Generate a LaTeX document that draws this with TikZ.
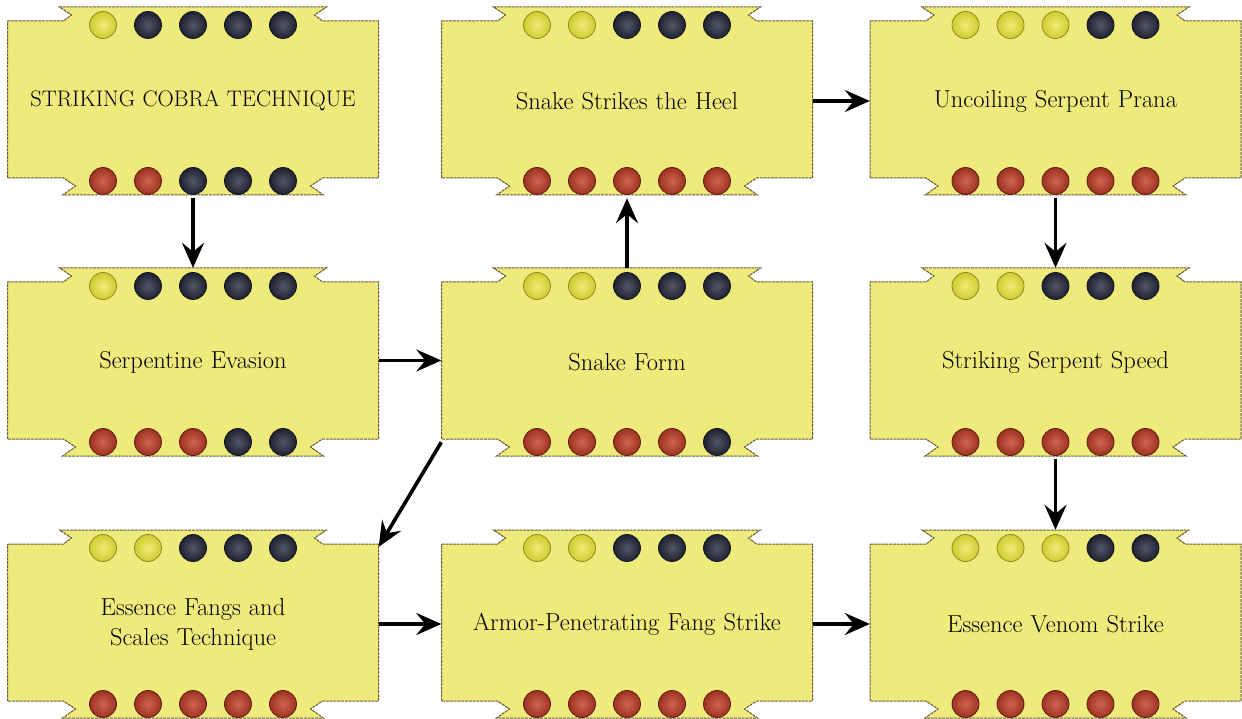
\documentclass[tikz,border=0pt]{standalone}
\usetikzlibrary{arrows.meta,calc}
\definecolor{boxfill}{HTML}{EEEA7C}
\definecolor{boxedge}{HTML}{6B5A30}
\definecolor{Yi}{HTML}{EEEC78}
\definecolor{Yo}{HTML}{CFCC30}
\definecolor{Ye}{HTML}{8C8A22}
\definecolor{Di}{HTML}{525868}
\definecolor{Do}{HTML}{1E2130}
\definecolor{De}{HTML}{14161E}
\definecolor{Ri}{HTML}{D06450}
\definecolor{Ro}{HTML}{9C3220}
\definecolor{Re}{HTML}{5E1C12}
\tikzset{
  boxtext/.style={minimum width=371pt, minimum height=157pt, inner sep=0pt, align=center, text width=350pt, font=\fontsize{24.5}{30}\selectfont},
  capstext/.style={font=\fontsize{22.5}{28}\selectfont},
  boxshape/.style={fill=boxfill, draw=boxedge, line width=1pt, dash pattern=on 3pt off 0.8pt},
  arr/.style={line width=3.6pt, -{Stealth[length=25pt,width=22pt,inset=9pt]}}
}
\newcommand\skillbox[7][]{%
  \begin{scope}[shift={(#3,#4)}]
    \path[boxshape] (-185.5,0) -- (-129.5,0) -- (-121.5,-6) -- (-133.5,-14) -- (133.5,-14) -- (121.5,-6) -- (129.5,0) -- (185.5,0)
      -- (185.5,157) -- (129.5,157) -- (117.5,165) -- (130.5,174) -- (-130.5,174) -- (-117.5,165) -- (-129.5,157) -- (-185.5,157) -- cycle;
    \foreach \c [count=\i] in {#6} {
      \shade[inner color=\c i, outer color=\c o, draw=\c e, line width=0.8pt] ({(\i-3)*45},4) circle (13.5); }
    \foreach \c [count=\i] in {#7} {
      \shade[inner color=\c i, outer color=\c o, draw=\c e, line width=0.8pt] ({(\i-3)*45},160) circle (13.5); }
  \end{scope}
  \node[boxtext,#1] (#2) at (#3,#4+80) {#5};
}
\begin{document}
\begin{tikzpicture}[x=1pt,y=-1pt]
\useasboundingbox[fill=white] (0,0) rectangle (1242,719);
\skillbox[capstext]{cobra}{193}{21}{STRIKING COBRA TECHNIQUE}{Y,D,D,D,D}{R,R,D,D,D}
\skillbox{heel}{627}{21}{Snake Strikes the Heel}{Y,Y,D,D,D}{R,R,R,R,R}
\skillbox{prana}{1055.5}{21}{Uncoiling Serpent Prana}{Y,Y,Y,D,D}{R,R,R,R,R}
\skillbox{evasion}{193}{282}{Serpentine Evasion}{Y,D,D,D,D}{R,R,R,D,D}
\skillbox{form}{627}{282}{Snake Form}{Y,Y,D,D,D}{R,R,R,R,D}
\skillbox{speed}{1055.5}{282}{Striking Serpent Speed}{Y,Y,D,D,D}{R,R,R,R,R}
\skillbox{fangs}{193}{544}{Essence Fangs and\\Scales Technique}{Y,Y,D,D,D}{R,R,R,R,R}
\skillbox{armor}{627}{544}{Armor-Penetrating Fang Strike}{Y,Y,D,D,D}{R,R,R,R,R}
\skillbox{venom}{1055.5}{544}{Essence Venom Strike}{Y,Y,Y,D,D}{R,R,R,R,R}
\draw[arr] ([yshift=-18.5pt]cobra.south) -- ([yshift=15.5pt]evasion.north);
\draw[arr] ([yshift=1.5pt]evasion.east) -- ([yshift=1.5pt]form.west);
\draw[arr] ([yshift=15.5pt]form.north) -- ([yshift=-18.5pt]heel.south);
\draw[arr] (heel.east) -- (prana.west);
\draw[arr] ([yshift=-18.5pt]prana.south) -- ([yshift=15.5pt]speed.north);
\draw[arr] ([yshift=-18.5pt]speed.south) -- ([yshift=15.5pt]venom.north);
\draw[arr] ([yshift=-1.5pt]form.south west) -- ([yshift=-1.5pt]fangs.north east);
\draw[arr] (fangs.east) -- (armor.west);
\draw[arr] (armor.east) -- (venom.west);
\end{tikzpicture}
\end{document}
